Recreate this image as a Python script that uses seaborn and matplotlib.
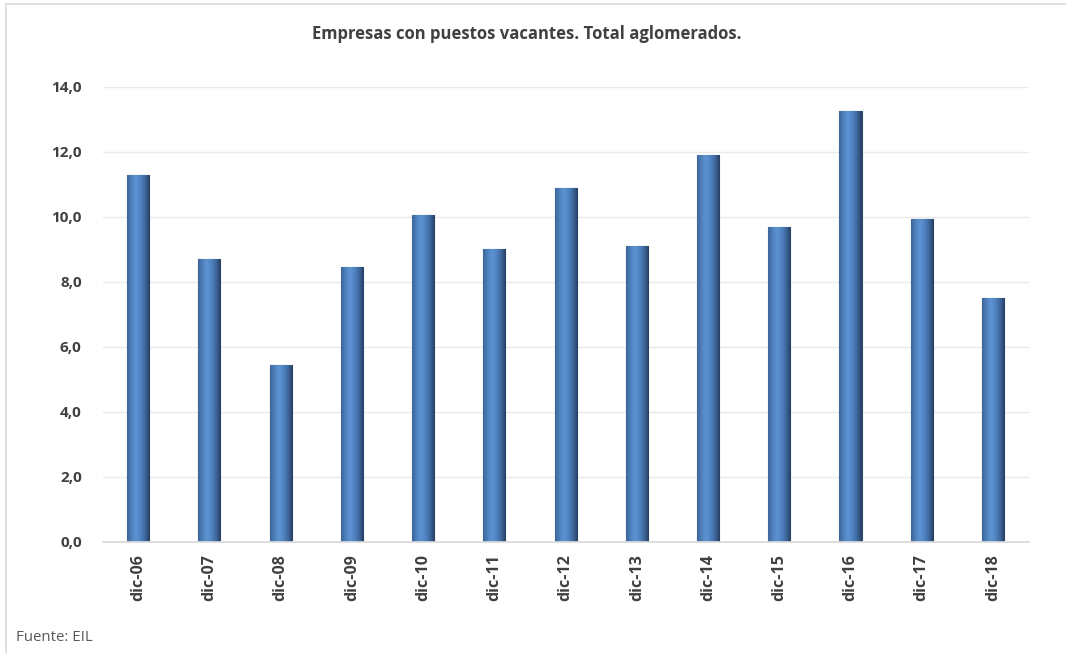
import numpy as np
import pandas as pd
import matplotlib
matplotlib.use('Agg')
import matplotlib.pyplot as plt
import seaborn as sns
from matplotlib.patches import Rectangle
from matplotlib.colors import LinearSegmentedColormap

# data
periods = ['dic-06', 'dic-07', 'dic-08', 'dic-09', 'dic-10', 'dic-11', 'dic-12',
           'dic-13', 'dic-14', 'dic-15', 'dic-16', 'dic-17', 'dic-18']
values = [11.3, 8.7, 5.45, 8.45, 10.05, 9.0, 10.9, 9.1, 11.9, 9.7, 13.25, 9.95, 7.5]
yticks = [0, 2, 4, 6, 8, 10, 12, 14]

TITLE = 'Empresas con puestos vacantes. Total aglomerados.'
SOURCE = 'Fuente: EIL'

df = pd.DataFrame({'periodo': periods, 'valor': values})

sns.set_theme(style='white')
plt.rcParams['font.family'] = ['Open Sans', 'DejaVu Sans']
TXT = '#404040'

fig = plt.figure(figsize=(10.66, 6.53), dpi=100)
ax = fig.add_axes([0.0962, 0.170, 0.8687, 0.697])

sns.barplot(df, x='periodo', y='valor', color='#4F81BD', saturation=1,
            width=0.31, edgecolor='#2C4D75', linewidth=0.8, ax=ax)

# bevelled look: horizontal shading clipped to each bar
bevel = LinearSegmentedColormap.from_list(
    'bevel', ['#3D6699', '#4F81BD', '#5E93D3', '#4F82C0', '#3E679C', '#253F60'])
grad = np.linspace(0, 1, 64)[np.newaxis, :]
for bar in list(ax.patches):
    x0, y0 = bar.get_x(), bar.get_y()
    w, h = bar.get_width(), bar.get_height()
    im = ax.imshow(grad, extent=[x0, x0 + w, y0, y0 + h], aspect='auto',
                   cmap=bevel, zorder=bar.get_zorder() + 0.1, interpolation='bilinear')
    im.set_clip_path(bar)

ax.set_ylim(0, 14)
ax.set_xlim(-0.5, len(periods) - 0.5)
ax.set_aspect('auto')
ax.set_yticks(yticks)
ax.set_yticklabels([f'{t:.1f}'.replace('.', ',') for t in yticks],
                   fontsize=11, fontweight='bold', color=TXT)
ax.tick_params(axis='x', labelrotation=90, length=0, pad=9)
ax.tick_params(axis='y', length=0, pad=15)
for lab in ax.get_xticklabels():
    lab.set_fontsize(11.5)
    lab.set_fontweight('bold')
    lab.set_color(TXT)
ax.set_xlabel('')
ax.set_ylabel('')
ax.yaxis.grid(True, color='#e9e9e9', linewidth=1)
ax.set_axisbelow(True)
for s in ['top', 'right', 'left']:
    ax.spines[s].set_visible(False)
ax.spines['bottom'].set_color('#d9d9d9')

fig.text(0.494, 0.948, TITLE, ha='center', va='center', fontsize=12,
         fontweight='bold', color=TXT)
fig.text(0.015, 0.024, SOURCE, ha='left', va='center', fontsize=10.8, color='#595959')
# chart-area frame: only the top and left edges fall inside the picture
fig.patches.append(Rectangle((0.0058, -0.05), 1.1, 1.0439, transform=fig.transFigure,
                             fill=False, edgecolor='#d9d9d9', linewidth=1.2))

fig.savefig('out.png', dpi=100)
